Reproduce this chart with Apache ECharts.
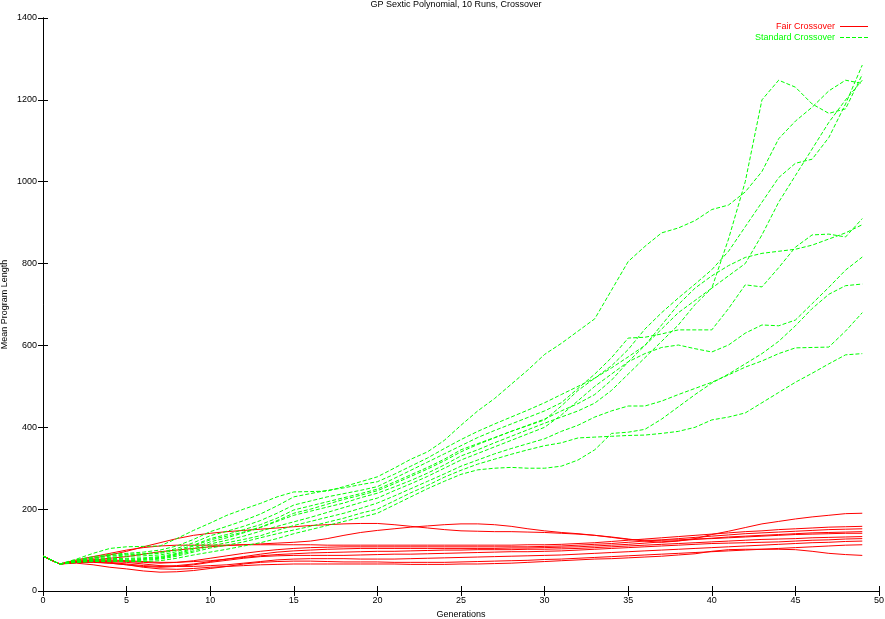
<!DOCTYPE html>
<html><head><meta charset="utf-8">
<script src="https://cdn.jsdelivr.net/npm/echarts@6/dist/echarts.min.js"></script>
<style>html,body{margin:0;padding:0;background:#fff}#c{width:885px;height:619px}</style>
</head><body><div id="c"></div>
<script>
const generations = [0,1,2,3,4,5,6,7,8,9,10,11,12,13,14,15,16,17,18,19,20,21,22,23,24,25,26,27,28,29,30,31,32,33,34,35,36,37,38,39,40,41,42,43,44,45,46,47,48,49];
const xTicks = [0,5,10,15,20,25,30,35,40,45,50];
const yTicks = [0,200,400,600,800,1000,1200,1400];

// Fair Crossover runs (red)
const fairRun1 = [85,66,74,80,88,97,108,118,128,136, 141,145,148,151,154,157,160,162,164,165, 165,162,158,154,150,147,146,145,145,144, 143,141,139,136,132,127,122,119,122,128, 138,146,155,164,170,176,181,185,189,190];
const fairRun2 = [85,66,72,76,80,84,90,96,100,104, 108,111,113,115,117,119,122,128,136,143, 148,152,156,159,162,164,164,162,158,152, 147,143,140,136,131,126,124,124,125,127, 128,130,132,134,136,138,139,140,141,141];
const fairRun3 = [85,66,76,84,92,100,106,110,112,112, 112,112,113,113,113,113,113,112,112,112, 112,112,112,112,112,112,112,112,112,113, 113,114,116,118,121,124,127,130,133,136, 139,142,145,147,150,152,154,156,157,158];
const fairRun4 = [85,66,72,74,74,72,70,68,70,74, 80,86,92,97,101,104,106,107,108,108, 108,108,108,108,108,108,108,108,108,108, 109,110,112,114,116,119,122,125,128,131, 134,137,140,142,144,146,148,150,151,152];
const fairRun5 = [85,66,70,72,70,66,62,60,62,66, 72,78,84,90,95,98,100,102,103,104, 104,104,104,104,104,104,104,104,105,105, 106,107,108,110,112,114,117,120,123,126, 129,132,134,136,138,140,142,143,144,145];
const fairRun6 = [85,66,72,76,76,74,72,70,70,72, 74,78,82,86,89,91,93,94,95,96, 97,97,98,99,100,100,101,101,101,102, 102,103,104,106,108,110,112,114,116,118, 120,122,124,126,127,128,130,131,132,133];
const fairRun7 = [85,66,70,70,68,64,60,58,60,64, 70,75,80,84,86,87,87,87,87,88, 89,90,90,91,92,93,94,95,96,96, 97,98,100,102,104,106,108,110,112,114, 116,117,118,119,120,122,124,125,127,128];
const fairRun8 = [85,66,70,72,72,70,66,62,60,60, 62,64,68,72,76,78,79,79,79,78, 78,78,79,80,81,82,83,84,85,86, 87,88,90,92,94,96,98,100,102,104, 106,108,110,112,114,116,118,119,121,122];
const fairRun9 = [85,66,68,64,58,54,49,46,47,50, 55,60,66,70,72,73,73,72,71,71, 71,70,70,70,70,71,72,73,74,75, 77,78,80,82,84,86,88,90,92,94, 96,98,100,102,104,106,108,110,112,113];
const fairRun10 = [85,66,70,71,68,64,58,54,53,55, 58,60,62,64,65,66,66,66,66,66, 66,66,65,65,65,66,66,67,68,70, 72,74,76,78,79,81,83,85,88,91, 97,101,102,102,102,101,97,92,89,87];

// Standard Crossover runs (green)
const stdRun1 = [85,66,78,92,104,108,109,110,128,148, 166,185,200,214,230,242,243,244,255,267, 279,300,322,340,368,405,440,470,505,540, 578,605,635,665,735,805,842,875,887,905, 932,943,975,1025,1105,1148,1182,1222,1248,1240];
const stdRun2 = [85,66,76,84,90,92,95,100,110,126, 145,158,172,188,208,230,238,246,252,260, 267,285,305,325,348,370,390,408,425,442, 460,480,500,520,550,590,640,680,716,750, 785,830,890,950,1010,1045,1055,1108,1190,1285];
const stdRun3 = [85,66,75,82,87,90,91,94,104,118, 135,146,158,172,190,210,220,230,238,246, 255,275,295,315,335,355,375,392,408,424, 440,460,495,530,570,618,620,628,638,638, 638,690,748,743,790,840,870,872,865,910];
const stdRun4 = [85,66,74,80,85,88,90,92,100,112, 128,138,150,162,178,198,208,218,228,238, 249,266,284,302,322,345,360,375,390,405, 420,440,458,480,515,560,600,640,680,710, 740,860,1000,1200,1248,1231,1190,1167,1178,1262];
const stdRun5 = [85,66,73,78,82,85,86,88,96,110, 125,134,144,156,172,190,200,212,224,234, 245,262,280,298,318,340,358,374,390,404, 418,452,490,520,545,572,600,650,700,740, 770,795,815,825,830,835,845,860,875,895];
const stdRun6 = [85,66,72,76,79,80,81,84,92,105, 120,130,142,155,170,185,195,205,215,228, 239,254,270,288,308,330,345,362,378,394, 410,425,440,459,490,530,570,610,650,700, 740,770,800,870,950,1015,1080,1145,1200,1248];
const stdRun7 = [85,66,72,75,77,78,79,82,90,102, 115,124,134,146,158,169,180,192,204,216, 227,245,262,280,300,320,336,352,368,384, 400,430,465,500,530,560,580,595,601,592, 584,601,630,650,648,662,702,742,784,816];
const stdRun8 = [85,66,71,74,76,76,77,80,88,98, 110,118,126,135,148,160,170,180,190,202, 215,232,250,268,286,305,320,335,348,360, 372,390,405,425,440,452,452,464,480,495, 510,528,547,562,580,594,595,596,635,680];
const stdRun9 = [85,66,70,73,74,74,75,78,85,95, 105,112,120,130,140,149,158,168,178,190, 200,220,240,258,278,295,310,322,334,345, 355,362,374,376,378,380,381,385,390,400, 418,425,435,460,485,510,532,555,577,580];
const stdRun10 = [85,66,70,72,72,72,72,74,80,88, 95,102,110,118,128,140,150,160,170,180, 190,210,230,250,268,285,296,300,302,300, 300,305,320,345,385,388,395,420,450,480, 508,530,555,580,610,648,690,725,746,750];

const fairRuns = [fairRun1,fairRun2,fairRun3,fairRun4,fairRun5,fairRun6,fairRun7,fairRun8,fairRun9,fairRun10];
const stdRuns = [stdRun1,stdRun2,stdRun3,stdRun4,stdRun5,stdRun6,stdRun7,stdRun8,stdRun9,stdRun10];

const FONT = 'Liberation Sans, Arial, Helvetica, sans-serif';
const RED = '#ff0000', GREEN = '#00ff00';

function mk(run, name, color, dashed) {
  return {
    type: 'line', name: name,
    data: generations.map((g, i) => [g, run[i]]),
    symbol: 'none', showSymbol: false, silent: true,
    lineStyle: { color: color, width: 1, type: dashed ? [4, 2] : 'solid' },
    itemStyle: { color: color },
    emphasis: { disabled: true },
    animation: false
  };
}
const series = [];
fairRuns.forEach(r => series.push(mk(r, 'Fair Crossover', RED, false)));
stdRuns.forEach(r => series.push(mk(r, 'Standard Crossover', GREEN, true)));

const xMin = xTicks[0], xMax = xTicks[xTicks.length-1], xInt = xTicks[1]-xTicks[0];
const yMin = yTicks[0], yMax = yTicks[yTicks.length-1], yInt = yTicks[1]-yTicks[0];

const axLine = { show: true, lineStyle: { color: '#000', width: 1 } };
const axTick = { show: true, inside: true, length: 5, lineStyle: { color: '#000', width: 1 } };
const lbl = { color: '#000', fontSize: 9, fontFamily: FONT, formatter: v => String(v) };

const SOLID_ICON = 'path://M0,0H28V1H0Z';
const DASH_ICON = 'path://M0,0H4V1H0Z M6,0H10V1H6Z M12,0H16V1H12Z M18,0H22V1H18Z M24,0H28V1H24Z';

const chart = echarts.init(document.getElementById('c'), null, { renderer: 'canvas' });
chart.setOption({
  animation: false,
  backgroundColor: '#fff',
  title: {
    text: 'GP Sextic Polynomial, 10 Runs, Crossover',
    left: 456, top: 0, textAlign: 'center', padding: 0,
    textStyle: { fontSize: 9, fontWeight: 'normal', color: '#000', fontFamily: FONT }
  },
  legend: {
    orient: 'vertical', right: 17, top: 21, padding: 0,
    align: 'right', itemWidth: 28, itemHeight: 11, itemGap: 0,
    selectedMode: false, symbolKeepAspect: true,
    textStyle: { fontSize: 9, fontFamily: FONT, lineHeight: 11 },
    data: [
      { name: 'Fair Crossover', icon: SOLID_ICON, textStyle: { color: RED } },
      { name: 'Standard Crossover', icon: DASH_ICON, textStyle: { color: GREEN } }
    ]
  },
  grid: { left: 43, right: 6, top: 18, bottom: 28, containLabel: false, outerBoundsMode: 'none', show: false },
  xAxis: [
    { type: 'value', min: xMin, max: xMax, interval: xInt, position: 'bottom',
      axisLine: axLine, axisTick: axTick, splitLine: { show: false },
      axisLabel: Object.assign({ margin: 5 }, lbl),
      name: 'Generations', nameLocation: 'middle', nameGap: 19, nameMoveOverlap: false,
      nameTextStyle: { color: '#000', fontSize: 9, fontFamily: FONT } },
    { type: 'value', min: xMin, max: xMax, interval: xInt, position: 'top',
      axisLine: axLine, axisTick: axTick, splitLine: { show: false },
      axisLabel: { show: false } }
  ],
  yAxis: [
    { type: 'value', min: yMin, max: yMax, interval: yInt, position: 'left',
      axisLine: axLine, axisTick: axTick, splitLine: { show: false },
      axisLabel: Object.assign({ margin: 6 }, lbl),
      name: 'Mean Program Length', nameLocation: 'middle', nameGap: 34, nameRotate: 90, nameMoveOverlap: false,
      nameTextStyle: { color: '#000', fontSize: 9, fontFamily: FONT } },
    { type: 'value', min: yMin, max: yMax, interval: yInt, position: 'right',
      axisLine: axLine, axisTick: axTick, splitLine: { show: false },
      axisLabel: { show: false } }
  ],
  series: series
});
</script></body></html>
